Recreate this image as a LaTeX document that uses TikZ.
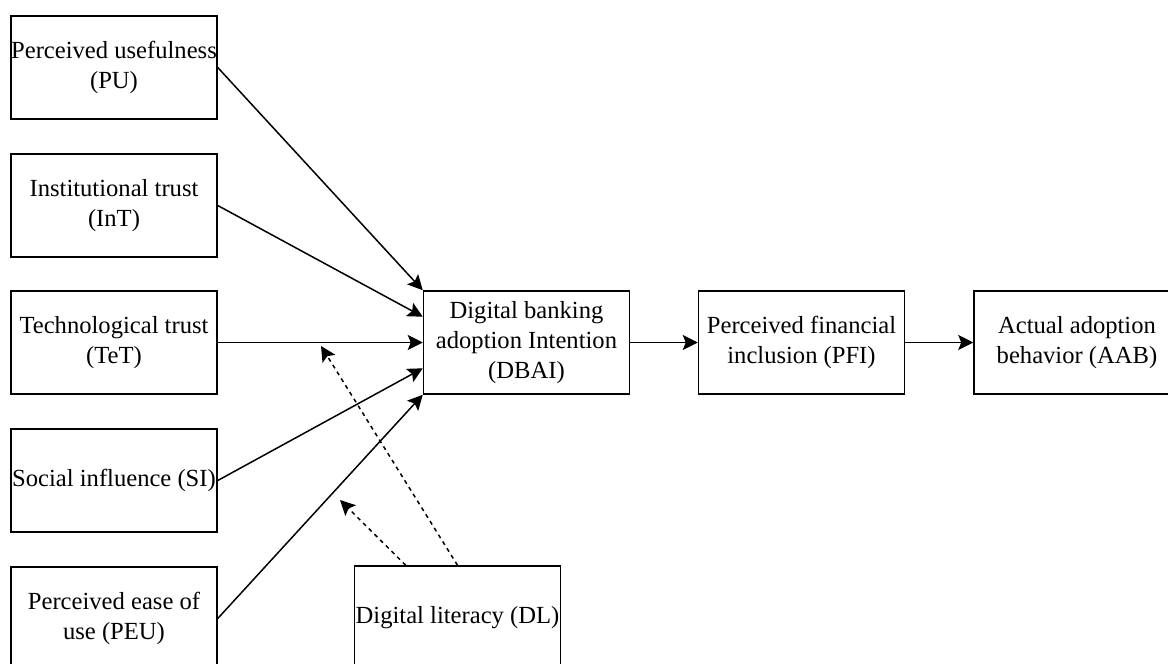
\documentclass[tikz,border=0pt]{standalone}
\usepackage{fontspec}
\setmainfont{Liberation Serif}
\usetikzlibrary{arrows.meta}

\begin{document}
\begin{tikzpicture}[x=0.5pt, y=-0.5pt,
    box/.style={draw, line width=0.75pt, minimum width=103pt, minimum height=51.5pt,
      inner sep=0pt, align=center, font=\fontsize{12.3}{15}\selectfont},
    link/.style={line width=0.75pt, -{Stealth[length=7.5pt, width=7.5pt, inset=1.5pt]}},
    moder/.style={link, dash pattern=on 2pt off 2pt}]
    \useasboundingbox (0,0) rectangle (1168,664);

    \node[box] at (114,67.5) (PU) {Perceived usefulness\\(PU)};
    \node[box] at (114,205.5) (InT) {Institutional trust\\(InT)};
    \node[box] at (114,342.5) (TeT) {Technological trust\\(TeT)};
    \node[box] at (114,480.5) (SI) {Social influence (SI)};
    \node[box] at (114,618.5) (PEU) {Perceived ease of\\use (PEU)};
    \node[box] at (526.5,342.5) (DBAI) {Digital banking\\adoption Intention\\(DBAI)};
    \node[box] at (801.5,342.5) (PFI) {Perceived financial\\inclusion (PFI)};
    \node[box] at (1077,342.5) (AAB) {Actual adoption\\behavior (AAB)};
    \node[box] at (457.5,617.5) (DL) {Digital literacy (DL)};

    \coordinate (m1) at (321,346);
    \coordinate (m2) at (340,500);

    \draw[link] (PU.east) -- (DBAI.north west);
    \draw[link] (InT.east) -- ([yshift=12.9pt]DBAI.west);
    \draw[link] (TeT.east) -- (DBAI.west);
    \draw[link] (SI.east) -- ([yshift=-12.9pt]DBAI.west);
    \draw[link] (PEU.east) -- (DBAI.south west);
    \draw[link] (DBAI) -- (PFI);
    \draw[link] (PFI) -- (AAB);
    \draw[moder] (DL.north) -- (m1);
    \draw[moder] ([xshift=-25.9pt]DL.north) -- (m2);
  \end{tikzpicture}
\end{document}
